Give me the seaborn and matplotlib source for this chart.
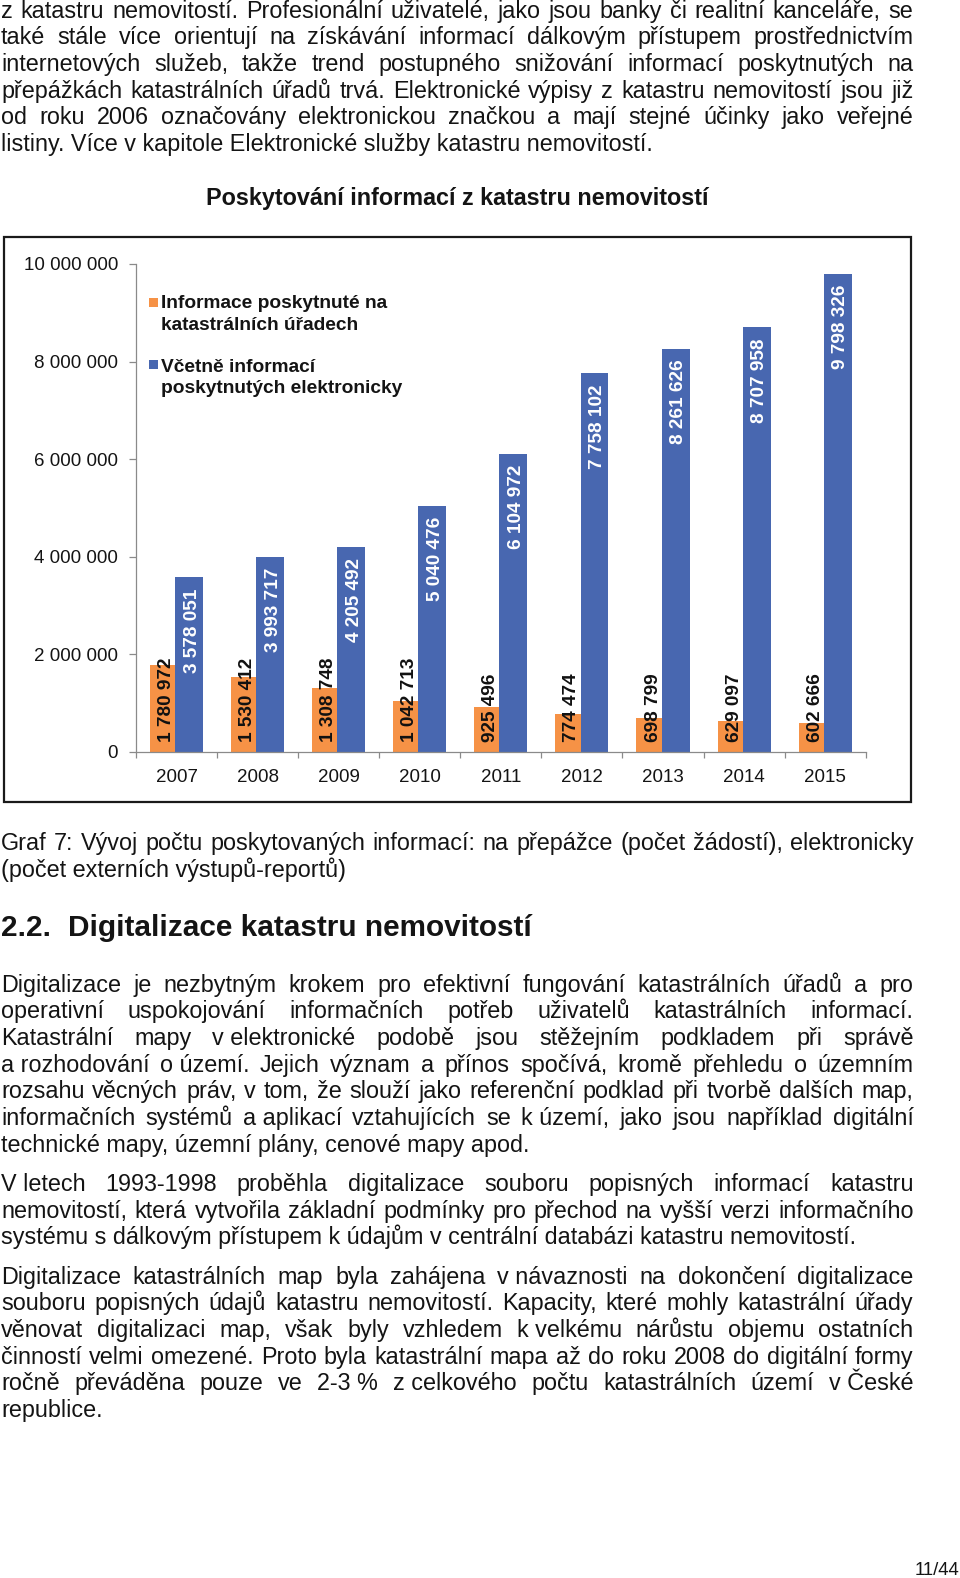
import matplotlib
matplotlib.use("Agg")
import matplotlib.pyplot as plt
import seaborn as sns
import pandas as pd
from matplotlib.patches import Rectangle
from matplotlib.ticker import FuncFormatter, FixedLocator

# ---------------- data ----------------
years = ["2007", "2008", "2009", "2010", "2011", "2012", "2013", "2014", "2015"]
counter_info = [1780972, 1530412, 1308748, 1042713, 925496, 774474, 698799, 629097, 602666]
electronic_info = [3578051, 3993717, 4205492, 5040476, 6104972, 7758102, 8261626, 8707958, 9798326]
series_names = ["Informace poskytnuté na\nkatastrálních úřadech",
                "Včetně informací\nposkytnutých elektronicky"]
y_ticks = [0, 2000000, 4000000, 6000000, 8000000, 10000000]
chart_title = "Poskytování informací z katastru nemovitostí"

NB = "\u00a0"
para1 = [
    "z katastru nemovitostí. Profesionální uživatelé, jako jsou banky či realitní kanceláře, se",
    "také stále více orientují na získávání informací dálkovým přístupem prostřednictvím",
    "internetových služeb, takže trend postupného snižování informací poskytnutých na",
    "přepážkách katastrálních úřadů trvá. Elektronické výpisy z katastru nemovitostí jsou již",
    "od roku 2006 označovány elektronickou značkou a mají stejné účinky jako veřejné",
    "listiny. Více v kapitole Elektronické služby katastru nemovitostí.",
]
caption = [
    "Graf 7: Vývoj počtu poskytovaných informací: na přepážce (počet žádostí), elektronicky",
    "(počet externích výstupů-reportů)",
]
heading_num = "2.2."
heading_text = "Digitalizace katastru nemovitostí"
para2 = [
    "Digitalizace je nezbytným krokem pro efektivní fungování katastrálních úřadů a pro",
    "operativní uspokojování informačních potřeb uživatelů katastrálních informací.",
    f"Katastrální mapy v{NB}elektronické podobě jsou stěžejním podkladem při správě",
    f"a{NB}rozhodování o{NB}území. Jejich význam a přínos spočívá, kromě přehledu o územním",
    "rozsahu věcných práv, v tom, že slouží jako referenční podklad při tvorbě dalších map,",
    f"informačních systémů a{NB}aplikací vztahujících se k{NB}území, jako jsou například digitální",
    "technické mapy, územní plány, cenové mapy apod.",
]
para3 = [
    f"V{NB}letech 1993-1998 proběhla digitalizace souboru popisných informací katastru",
    "nemovitostí, která vytvořila základní podmínky pro přechod na vyšší verzi informačního",
    "systému s dálkovým přístupem k údajům v centrální databázi katastru nemovitostí.",
]
para4 = [
    f"Digitalizace katastrálních map byla zahájena v{NB}návaznosti na dokončení digitalizace",
    "souboru popisných údajů katastru nemovitostí. Kapacity, které mohly katastrální úřady",
    f"věnovat digitalizaci map, však byly vzhledem k{NB}velkému nárůstu objemu ostatních",
    "činností velmi omezené. Proto byla katastrální mapa až do roku 2008 do digitální formy",
    f"ročně převáděna pouze ve 2-3{NB}% z{NB}celkového počtu katastrálních území v{NB}České",
    "republice.",
]
page_number = "11/44"

# ---------------- setup ----------------
W, H = 960, 1578
sns.set_theme(style="white")
plt.rcParams["font.family"] = ["Liberation Sans", "DejaVu Sans"]
TXT = "#141414"
ORANGE = "#F69246"
BLUE = "#4867B0"

fig = plt.figure(figsize=(W / 100, H / 100), dpi=100)
fig.patch.set_facecolor("white")
renderer = fig.canvas.get_renderer()


def fx(x):
    return x / W


def fy(y):
    return 1 - y / H


BODY = 16.8
X0, X1 = 1.0, 913.5


def draw_line(s, y, justify, size=BODY, weight="normal"):
    if not justify:
        fig.text(fx(X0), fy(y), s, fontsize=size, fontweight=weight,
                 va="baseline", ha="left", color=TXT)
        return
    words = s.split(" ")
    texts = [fig.text(0, fy(y), w, fontsize=size, fontweight=weight,
                      va="baseline", ha="left", color=TXT) for w in words]
    widths = [t.get_window_extent(renderer).width for t in texts]
    gap = (X1 - X0 - sum(widths)) / max(len(words) - 1, 1)
    x = X0
    for t, w in zip(texts, widths):
        t.set_x(fx(x))
        x += w + gap


def draw_para(lines, y0, pitch=26.65):
    for k, s in enumerate(lines):
        draw_line(s, y0 + k * pitch, justify=(k < len(lines) - 1))


draw_para(para1, 17.8)
draw_para(caption, 850.3)
fig.text(fx(0.5), fy(936), heading_num, fontsize=21.4, fontweight="bold",
         va="baseline", ha="left", color=TXT)
fig.text(fx(68.4), fy(936), heading_text, fontsize=21.4, fontweight="bold",
         va="baseline", ha="left", color=TXT)
draw_para(para2, 991.7)
draw_para(para3, 1191.0)
draw_para(para4, 1283.6)
fig.text(fx(959), fy(1575), page_number, fontsize=13.4, va="baseline",
         ha="right", color=TXT)

# ---------------- chart ----------------
fig.patches.append(Rectangle((fx(3.8), fy(801.5)), fx(910.5) - fx(3.8),
                             fy(236.7) - fy(801.5), transform=fig.transFigure,
                             fill=False, edgecolor="#1a1a1a", linewidth=1.6))
fig.text(fx(457), fy(205), chart_title, fontsize=16.8, fontweight="bold",
         ha="center", va="baseline", color=TXT)

ax_left, ax_right, ax_top, ax_bot = 136, 865.7, 264, 752
ax = fig.add_axes([fx(ax_left), fy(ax_bot), (ax_right - ax_left) / W,
                   (ax_bot - ax_top) / H])
ax.set_facecolor("none")

df = pd.DataFrame({
    "Rok": years * 2,
    "Počet": counter_info + electronic_info,
    "Typ": [series_names[0]] * len(years) + [series_names[1]] * len(years),
})
sns.barplot(data=df, x="Rok", y="Počet", hue="Typ", hue_order=series_names,
            palette=[ORANGE, BLUE], saturation=1, width=0.655, dodge=True,
            ax=ax, legend=False, linewidth=0, errorbar=None)

ax.set_xlim(-0.5, len(years) - 0.5)
ax.set_ylim(0, 10000000)

# adjust bar widths (blue bars slightly wider, as in the original)
ORANGE_OFF, ORANGE_W = 0.1725, 0.31
BLUE_OFF, BLUE_W = 0.4825, 0.345
for bar in ax.containers[0]:
    c = round(bar.get_x() + bar.get_width() / 2)
    bar.set_x(c - 0.5 + ORANGE_OFF)
    bar.set_width(ORANGE_W)
for bar in ax.containers[1]:
    c = round(bar.get_x() + bar.get_width() / 2)
    bar.set_x(c - 0.5 + BLUE_OFF)
    bar.set_width(BLUE_W)


def fmt(v):
    return f"{int(v):,}".replace(",", " ")


for bar, v in zip(ax.containers[0], counter_info):
    cx = bar.get_x() + bar.get_width() / 2
    ax.annotate(fmt(v), xy=(cx, 0), xytext=(4, 10), textcoords="offset pixels",
                rotation=90, ha="center", va="bottom", fontsize=13.7,
                fontweight="bold", color="#111111")
for bar, v in zip(ax.containers[1], electronic_info):
    cx = bar.get_x() + bar.get_width() / 2
    ax.annotate(fmt(v), xy=(cx, v), xytext=(3, -11), textcoords="offset pixels",
                rotation=90, ha="center", va="top", fontsize=13.7,
                fontweight="bold", color="white")

for side in ["top", "right"]:
    ax.spines[side].set_visible(False)
for side in ["left", "bottom"]:
    ax.spines[side].set_color("#8a8a8a")
    ax.spines[side].set_linewidth(0.9)

ax.yaxis.set_major_locator(FixedLocator(y_ticks))
ax.yaxis.set_major_formatter(FuncFormatter(lambda v, p: fmt(v)))
ax.tick_params(axis="y", which="major", direction="out", length=5, width=0.9,
               color="#8a8a8a", pad=7.9, labelsize=13.5, labelcolor=TXT, left=True)
ax.xaxis.set_minor_locator(FixedLocator([i - 0.5 for i in range(len(years) + 1)]))
ax.tick_params(axis="x", which="major", length=0, pad=12, labelsize=13.5,
               labelcolor=TXT)
ax.tick_params(axis="x", which="minor", direction="out", length=4.5, width=0.9,
               color="#8a8a8a", bottom=True)
ax.set_xlabel("")
ax.set_ylabel("")
ax.grid(False)

# legend (drawn as in the original: marker aligned with first line)
leg_x_box, leg_x_txt, box = 148.5, 161.0, 9
leg_rows = [(ORANGE, 302.2, [308.3, 330.0]), (BLUE, 364.7, [371.7, 393.3])]
for (col, cy, bases), name in zip(leg_rows, series_names):
    fig.patches.append(Rectangle((fx(leg_x_box), fy(cy + box / 2)), box / W, box / H,
                                 transform=fig.transFigure, facecolor=col,
                                 edgecolor="none"))
    for b, ln in zip(bases, name.split("\n")):
        fig.text(fx(leg_x_txt), fy(b), ln, fontsize=13.8, fontweight="bold",
                 ha="left", va="baseline", color=TXT)

fig.savefig("out.png", dpi=100, facecolor="white")
